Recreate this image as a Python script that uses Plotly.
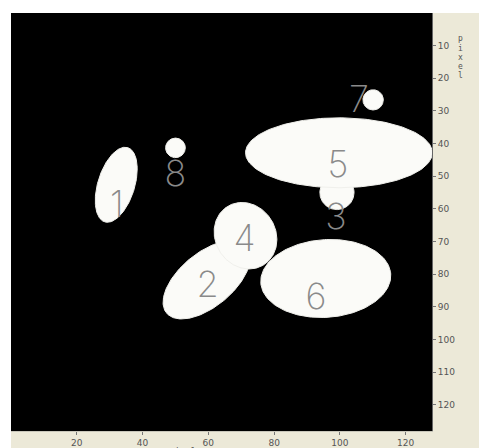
import numpy as np
import plotly.graph_objects as go

# Region data (image pixel coordinates, 128x128 image)
labels = ["1", "2", "3", "4", "5", "6", "7", "8"]
center_x = [32.0, 59.5, 99.1, 71.3, 99.7, 95.7, 110.1, 50.0]
center_y = [52.6, 81.7, 55.0, 68.2, 42.8, 81.3, 26.6, 41.3]
semi_major = [11.9, 15.9, 5.2, 10.5, 28.4, 19.8, 3.1, 3.0]
semi_minor = [5.6, 8.2, 5.2, 9.2, 10.7, 11.9, 3.1, 3.0]
orientation_deg = [-73, -40, 0, 60, 0, -4, 0, 0]
label_x = [32.2, 59.8, 98.8, 71.0, 99.4, 92.7, 105.8, 50.0]
label_y = [59.6, 84.1, 63.3, 70.0, 47.4, 87.8, 27.5, 50.2]

x_ticks = [20, 40, 60, 80, 100, 120]
y_ticks = [10, 20, 30, 40, 50, 60, 70, 80, 90, 100, 110, 120]
axis_title = "pixel"

fig = go.Figure()
t = np.linspace(0, 2 * np.pi, 200)
for cx, cy, a, b, ang in zip(center_x, center_y, semi_major, semi_minor, orientation_deg):
    th = np.deg2rad(ang)
    xs = cx + a * np.cos(th) * np.cos(t) - b * np.sin(th) * np.sin(t)
    ys = cy + a * np.sin(th) * np.cos(t) + b * np.cos(th) * np.sin(t)
    fig.add_trace(go.Scatter(x=xs, y=ys, mode="lines", fill="toself",
                             fillcolor="#fbfbf8", line=dict(color="#f0f0ec", width=1),
                             hoverinfo="skip", showlegend=False))

fig.add_trace(go.Scatter(x=label_x, y=label_y, mode="text", text=labels,
                         textfont=dict(family="Inter", size=36, color="#8a8a8a", weight=200),
                         textposition="middle center", showlegend=False, hoverinfo="skip"))

beige = "#ece9d8"
tickfont = dict(family="DejaVu Sans", size=9, color="#555555")

# The page body has an 8px margin: the figure fills the rest of the 487x448 window
fig.update_layout(
    width=479, height=440,
    margin=dict(l=3, r=55, t=5, b=17, autoexpand=False),
    paper_bgcolor=beige, plot_bgcolor="black",
    xaxis=dict(range=[0, 128], tickvals=x_ticks, ticks="outside", ticklen=3,
               tickcolor="#777777", tickfont=tickfont, showgrid=False, zeroline=False,
               showline=True, linecolor="#c8c6ba", linewidth=1, mirror=False),
    yaxis=dict(range=[128, 0], tickvals=y_ticks, side="right", ticks="outside", ticklen=3,
               tickcolor="#777777", tickfont=tickfont, showgrid=False, zeroline=False,
               showline=True, linecolor="#666666", linewidth=1),
    shapes=[
        dict(type="rect", xref="paper", yref="paper", x0=-0.05, x1=0, y0=-0.1, y1=1.1,
             fillcolor="white", line=dict(width=0), layer="below"),
        dict(type="rect", xref="paper", yref="paper", x0=-0.05, x1=1.2, y0=1, y1=1.1,
             fillcolor="white", line=dict(width=0), layer="below"),
    ],
)

# Vertical stacked axis title on the right
letters = list(axis_title)
letter_px = [39, 48, 57, 66, 75]
for ch, py in zip(letters, letter_px):
    fig.add_annotation(text=ch, xref="paper", yref="paper", x=(460 - 11) / 421,
                       y=1 - (py - 13) / 418, showarrow=False,
                       font=dict(family="DejaVu Sans Mono", size=8, color="#555555"),
                       xanchor="center", yanchor="middle")

# Bottom axis title (mostly cut off by the window edge, as in the reference)
fig.add_annotation(text=axis_title, xref="paper", yref="paper", x=(182 - 11) / 421,
                   y=-(444 - 431) / 418, showarrow=False, yanchor="top", xanchor="center",
                   font=dict(family="DejaVu Sans Mono", size=9, color="#555555"))

fig.write_html("out.html")
